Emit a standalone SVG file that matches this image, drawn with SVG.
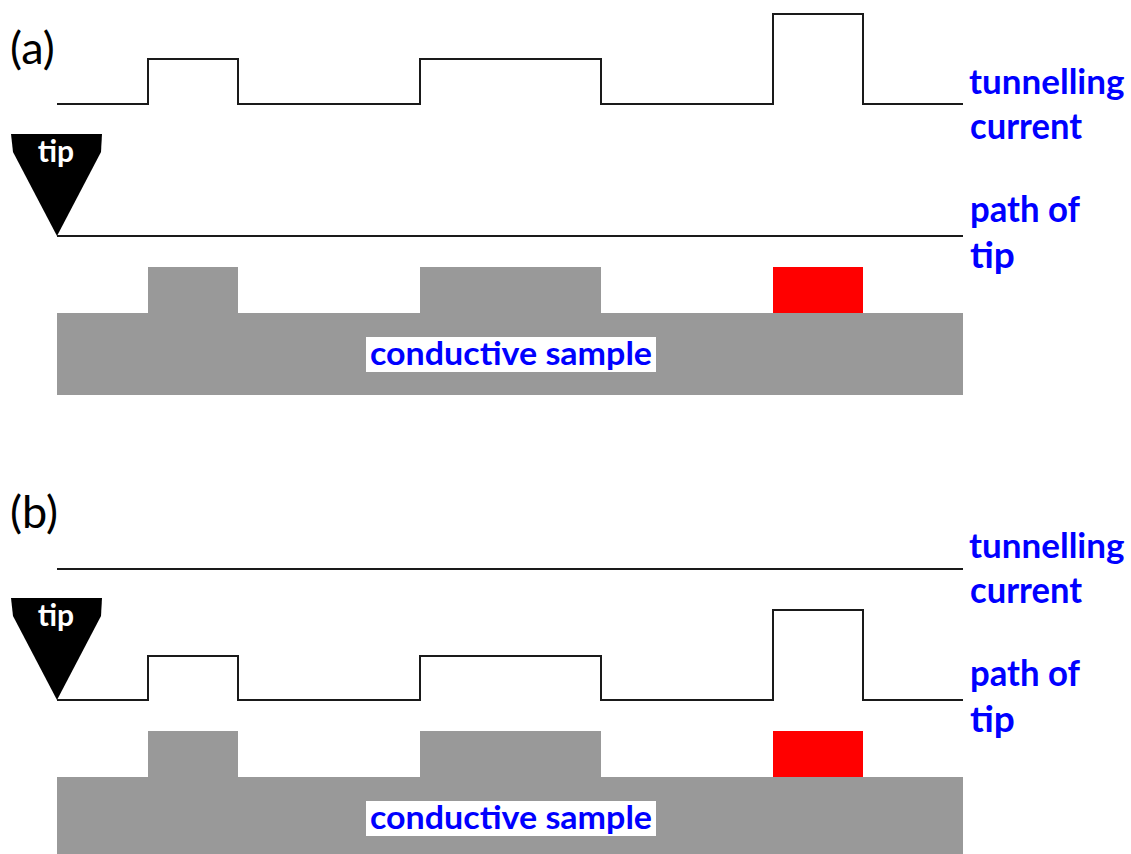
<svg xmlns="http://www.w3.org/2000/svg" width="1131" height="854" viewBox="0 0 1131 854">
  <style>
    .trace { fill: none; stroke: #1a1a1a; stroke-width: 2; }
    .label { font-family: Lato, "Liberation Sans", sans-serif; font-weight: bold; font-size: 37px; fill: #0000ff; }
    .side { font-size: 35px; }
    .panel { font-family: Lato, "Liberation Sans", sans-serif; font-size: 45px; fill: #000; }
    .tiptext { font-family: Lato, "Liberation Sans", sans-serif; font-weight: bold; font-size: 30px; fill: #fff; }
    .sample { fill: #999999; }
    .adsorbate { fill: #ff0000; }
    .samplebox { fill: #ffffff; }
    .sampletext { font-family: Lato, "Liberation Sans", sans-serif; font-weight: bold; font-size: 33px; fill: #0000ff; }
  </style>
  <defs>
    <!-- tip glyph: flat top, pointed end at (57,236) relative to panel (a) -->
    <g id="tipShape">
      <polygon points="11,134 102,134 101,152 57,236 13,152" fill="#000"/>
      <text class="tiptext" x="56" y="162" text-anchor="middle">tip</text>
    </g>
    <!-- sample with two grey terraces and one red feature -->
    <g id="sampleShape">
      <rect class="sample" x="148" y="267" width="90" height="47"/>
      <rect class="sample" x="420" y="267" width="181" height="47"/>
      <rect class="adsorbate" x="773" y="267" width="90" height="47"/>
      <rect class="sample" x="57" y="313" width="906" height="82"/>
      <rect class="samplebox" x="366" y="337" width="290" height="35"/>
      <text class="sampletext" x="511" y="365" text-anchor="middle" textLength="282" lengthAdjust="spacingAndGlyphs">conductive sample</text>
    </g>
  </defs>

  <!-- (a) constant height mode -->
  <g id="panel-a">
    <text class="panel" x="10" y="64">(a)</text>
    <g id="a-current">
      <polyline class="trace" points="57,104 148,104 148,59 238,59 238,104 420,104 420,59 601,59 601,104 773,104 773,14 863,14 863,104 963,104"/>
      <text class="label side" x="969" y="94">tunnelling</text>
      <text class="label" x="970" y="139" textLength="112" lengthAdjust="spacingAndGlyphs">current</text>
    </g>
    <g id="a-tip">
      <use href="#tipShape"/>
    </g>
    <g id="a-path">
      <line class="trace" x1="57" y1="236" x2="963" y2="236"/>
      <text class="label" x="970" y="222" textLength="110" lengthAdjust="spacingAndGlyphs">path of</text>
      <text class="label" x="970" y="268">tip</text>
    </g>
    <g id="a-sample">
      <use href="#sampleShape"/>
    </g>
  </g>

  <!-- (b) constant current mode -->
  <g id="panel-b">
    <text class="panel" x="10" y="528">(b)</text>
    <g id="b-current">
      <line class="trace" x1="57" y1="569" x2="963" y2="569"/>
      <text class="label side" x="969" y="558">tunnelling</text>
      <text class="label" x="970" y="603" textLength="112" lengthAdjust="spacingAndGlyphs">current</text>
    </g>
    <g id="b-tip" transform="translate(0,464)">
      <use href="#tipShape"/>
    </g>
    <g id="b-path">
      <polyline class="trace" points="57,700 148,700 148,656 238,656 238,700 420,700 420,656 601,656 601,700 773,700 773,610 863,610 863,700 963,700"/>
      <text class="label" x="970" y="686" textLength="110" lengthAdjust="spacingAndGlyphs">path of</text>
      <text class="label" x="970" y="732">tip</text>
    </g>
    <g id="b-sample" transform="translate(0,464)">
      <use href="#sampleShape"/>
    </g>
  </g>
</svg>
